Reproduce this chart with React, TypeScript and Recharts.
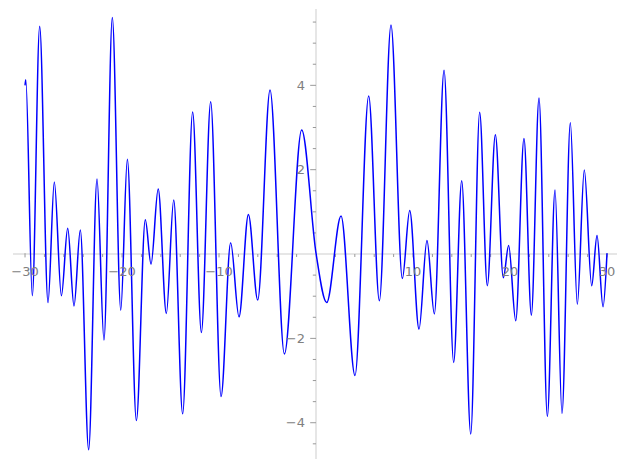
import React from "react";
import { LineChart, Line, XAxis, YAxis, ReferenceLine, ReferenceDot } from "recharts";

// Curve samples (extrema and a few crossings)
const xValues = [
  -30.0, -29.92, -29.25, -28.49, -27.63, -26.98, -26.25, -25.6, -24.95, -24.3,
  -23.44, -22.58, -21.86, -21.0, -20.13, -19.45, -18.52, -17.6, -17.01, -16.27,
  -15.43, -14.67, -13.75, -12.72, -11.82, -10.86, -9.79, -8.8, -7.94, -6.97,
  -6.01, -4.74, -3.26, -1.48, 0.0, 1.1, 2.58, 4.02, 5.43, 6.53,
  7.73, 8.9, 9.66, 10.62, 11.44, 12.2, 13.2, 14.19, 15.02, 15.95,
  16.87, 17.66, 18.49, 19.31, 19.86, 20.59, 21.44, 22.2, 22.99, 23.85,
  24.64, 25.36, 26.22, 26.94, 27.66, 28.42, 28.97, 29.59, 30.0,
];
const yValues = [
  4.0, 4.13, -0.99, 5.4, -1.15, 1.71, -0.99, 0.61, -1.23, 0.57,
  -4.64, 1.78, -2.04, 5.61, -1.33, 2.25, -3.95, 0.81, -0.24, 1.54,
  -1.41, 1.28, -3.79, 3.37, -1.86, 3.61, -3.38, 0.27, -1.49, 0.94,
  -1.09, 3.89, -2.37, 2.94, 0.02, -1.15, 0.9, -2.88, 3.75, -1.11,
  5.43, -0.58, 1.03, -1.78, 0.32, -1.42, 4.36, -2.57, 1.74, -4.27,
  3.36, -0.75, 2.83, -0.56, 0.2, -1.58, 2.74, -1.45, 3.7, -3.85,
  1.52, -3.78, 3.11, -1.19, 1.99, -0.75, 0.44, -1.25, 0.02,
];

const xMajorTicks = [-30, -20, -10, 10, 20, 30];
const xMajorLabels = ["\u221230", "\u221220", "\u221210", "10", "20", "30"];
const xMinorTicks = [-28, -26, -24, -22, -18, -16, -14, -12, -8, -6, -4, -2, 2, 4, 6, 8, 12, 14, 16, 18, 22, 24, 26, 28];
const yMajorTicks = [-4, -2, 2, 4];
const yMajorLabels = ["\u22124", "\u22122", "2", "4"];
const yMinorTicks = [-4.5, -3.5, -3, -2.5, -1.5, -1, -0.5, 0.5, 1, 1.5, 2.5, 3, 3.5, 4.5, 5, 5.5];

const data = xValues.map((x, i) => ({ x, y: yValues[i] }));

const AXIS = "#e6e6e6";
const TICK = "#999999";
const LABEL = "#808080";
const FONT = "DejaVu Sans, sans-serif";

export default function App() {
  return (
    <div style={{ position: "absolute", left: 0, top: 0, width: 627, height: 469, background: "#fff" }}>
      <LineChart width={627} height={469} data={data} margin={{ top: 9, right: 10, bottom: 10, left: 13 }}>
        <XAxis dataKey="x" type="number" domain={[-31.24, 31.03]} hide allowDataOverflow />
        <YAxis type="number" domain={[-4.86, 5.81]} hide allowDataOverflow />
        <ReferenceLine y={0} stroke={AXIS} strokeWidth={2} />
        <ReferenceLine x={0} stroke={AXIS} strokeWidth={2} />
        {xMajorTicks.map((t) => (
          <ReferenceLine key={"xM" + t} segment={[{ x: t, y: 0.02 }, { x: t, y: -0.08 }]} stroke={TICK} strokeWidth={1} />
        ))}
        {xMinorTicks.map((t) => (
          <ReferenceLine key={"xm" + t} segment={[{ x: t, y: 0.0 }, { x: t, y: -0.07 }]} stroke={TICK} strokeWidth={1} />
        ))}
        {yMajorTicks.map((t) => (
          <ReferenceLine key={"yM" + t} segment={[{ x: -0.6, y: t }, { x: 0, y: t }]} stroke={TICK} strokeWidth={1} />
        ))}
        {yMinorTicks.map((t) => (
          <ReferenceLine key={"ym" + t} segment={[{ x: -0.33, y: t }, { x: 0, y: t }]} stroke={TICK} strokeWidth={1} />
        ))}
        {xMajorTicks.map((t, i) => (
          <ReferenceDot
            key={"xl" + t}
            x={t}
            y={0}
            r={0}
            stroke="none"
            fill="none"
            label={{ value: xMajorLabels[i], position: "bottom", offset: 13, fill: LABEL, fontSize: 13, fontFamily: FONT }}
          />
        ))}
        {yMajorTicks.map((t, i) => (
          <ReferenceDot
            key={"yl" + t}
            x={0}
            y={t}
            r={0}
            stroke="none"
            fill="none"
            label={{ value: yMajorLabels[i], position: "left", offset: 11, fill: LABEL, fontSize: 13, fontFamily: FONT }}
          />
        ))}
        <Line type="monotone" dataKey="y" stroke="#0000ff" strokeWidth={1.5} dot={false} isAnimationActive={false} />
      </LineChart>
    </div>
  );
}
